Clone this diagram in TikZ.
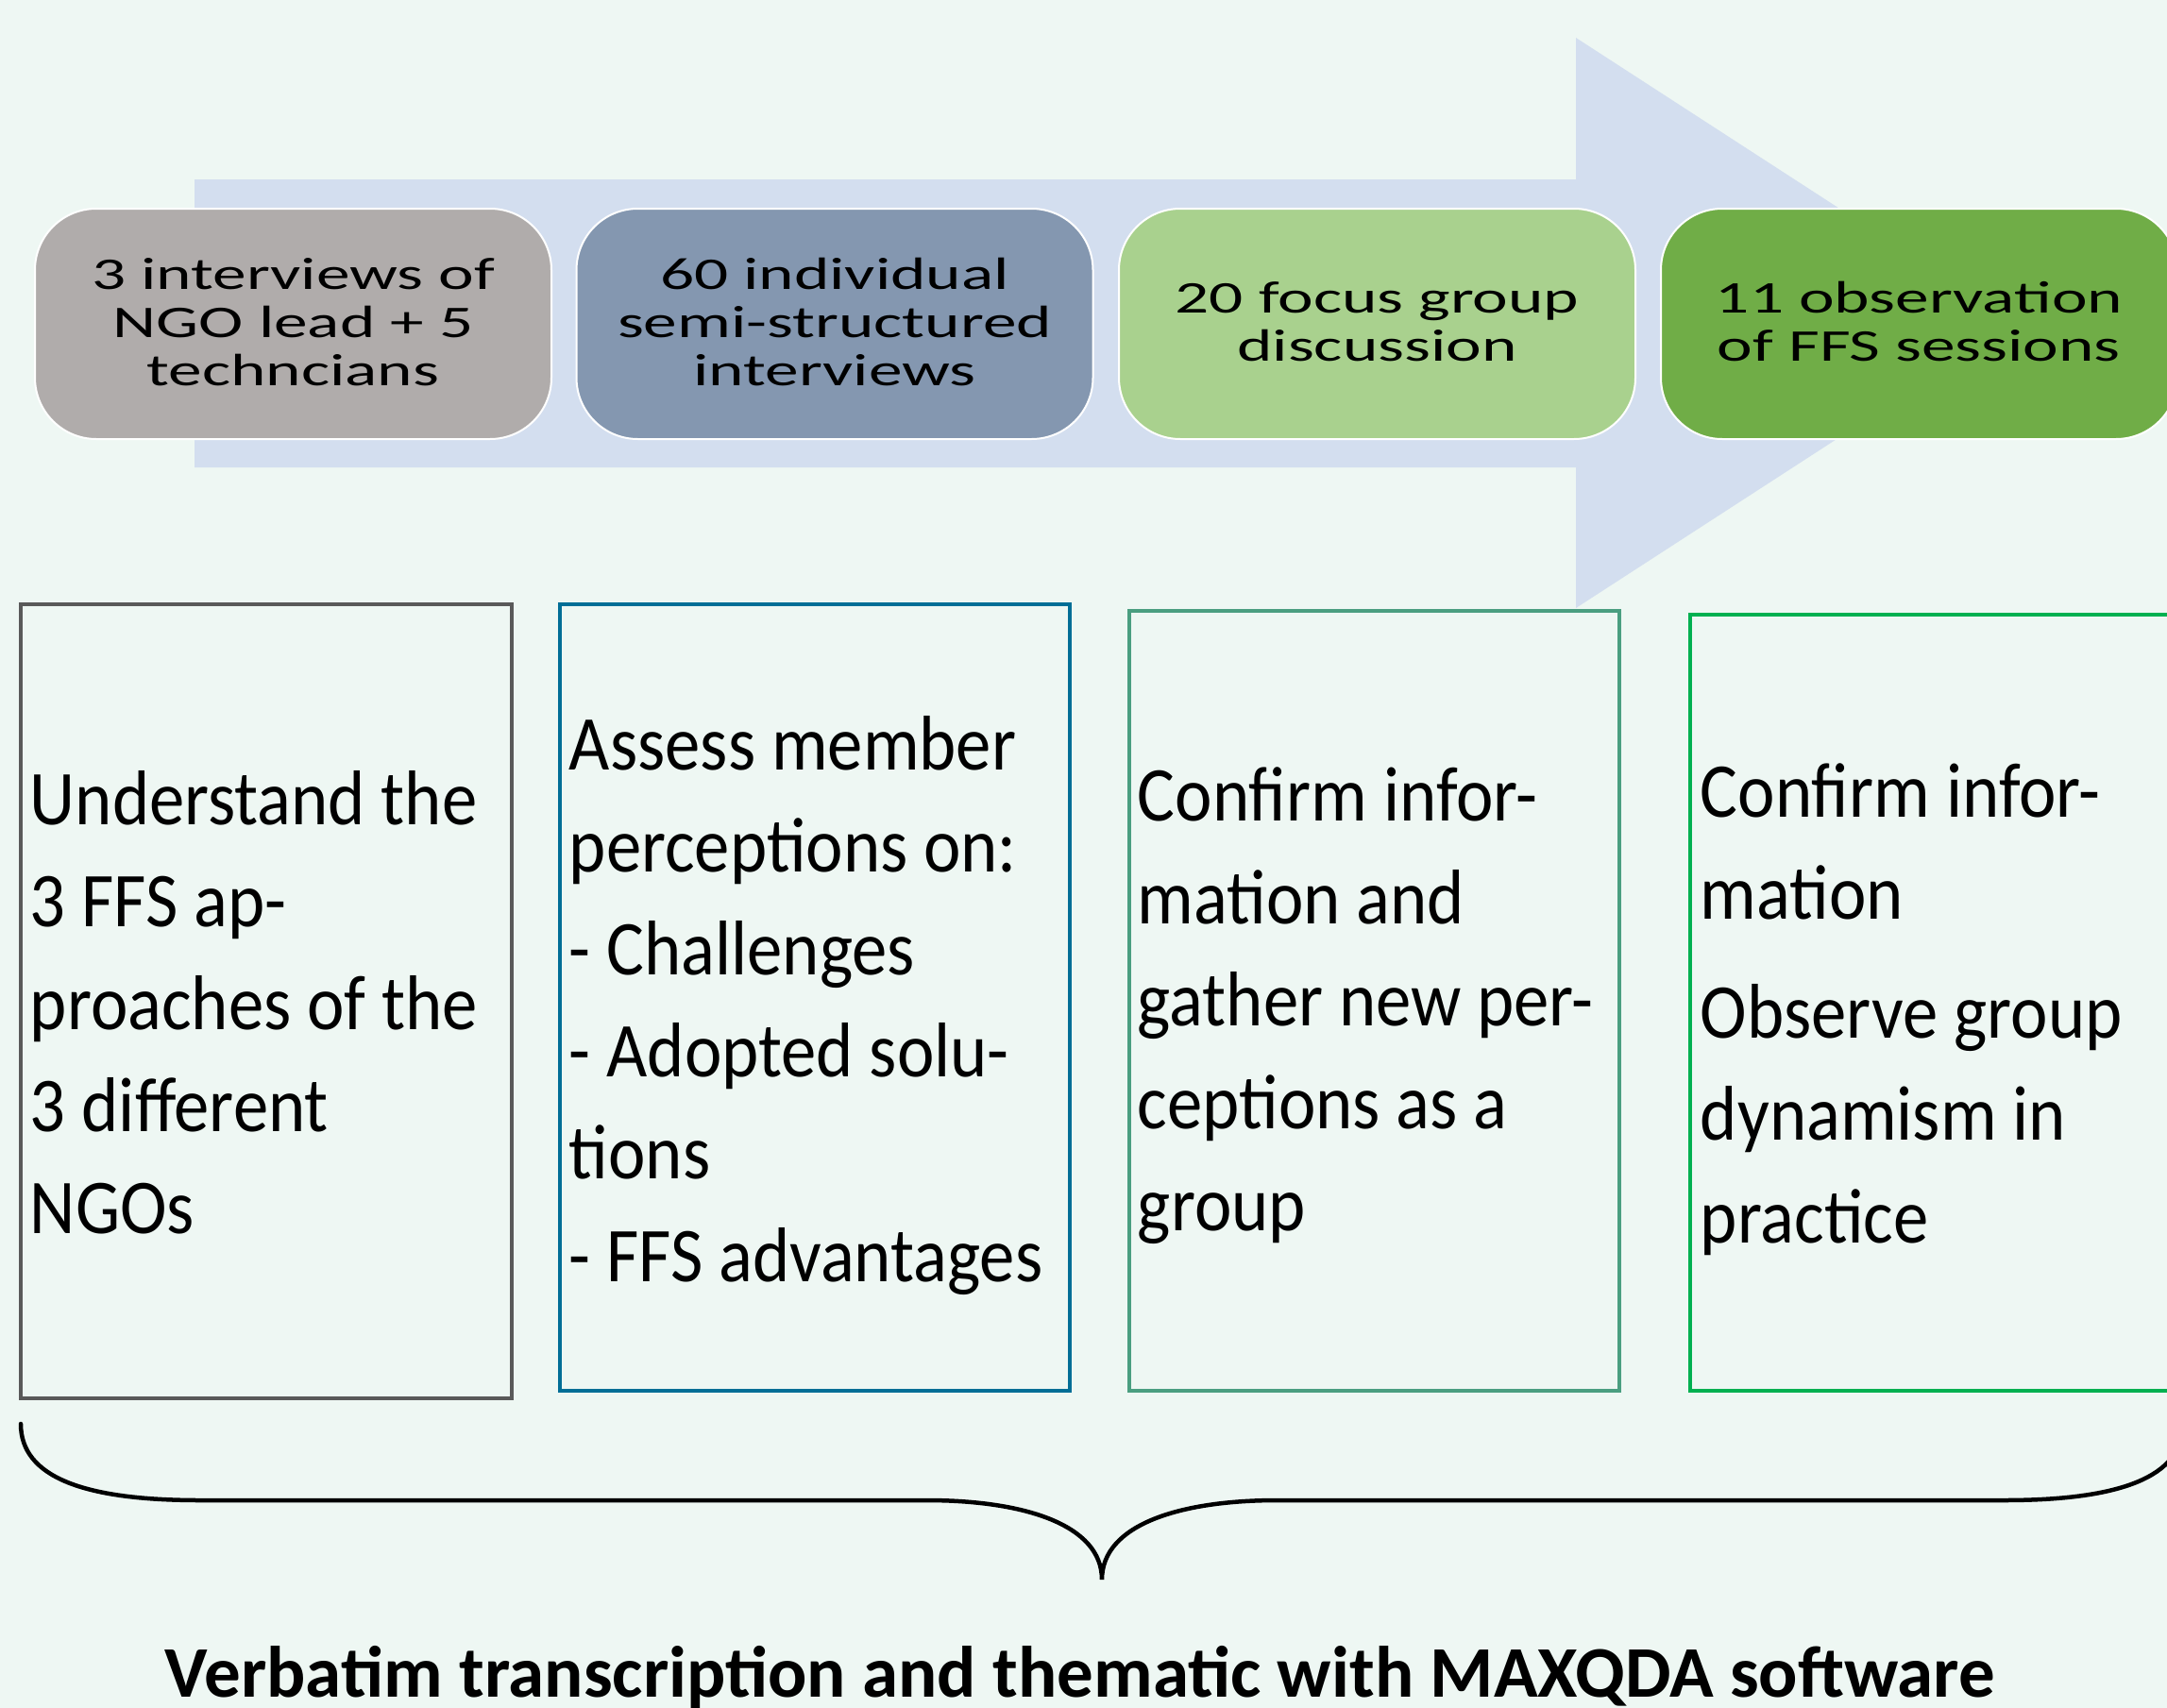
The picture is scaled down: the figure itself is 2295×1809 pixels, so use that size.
\documentclass[tikz,border=0pt]{standalone}
\usepackage{graphicx}
\usepackage{fontspec}
\setmainfont{Carlito}
\definecolor{bg}{HTML}{EEF7F3}
\definecolor{arrowc}{HTML}{D3DEEF}
\definecolor{cone}{HTML}{B0ACAB}
\definecolor{ctwo}{HTML}{8497B0}
\definecolor{cthree}{HTML}{A9D18E}
\definecolor{cfour}{HTML}{70AD47}
\definecolor{done}{HTML}{595959}
\definecolor{dtwo}{HTML}{006E96}
\definecolor{dthree}{HTML}{4A9E80}
\definecolor{dfour}{HTML}{00B050}
\newcommand{\stagetxt}[1]{\scalebox{1.485}[1]{\begin{tabular}{@{}c@{}}#1\end{tabular}}}
\newcommand{\goaltxt}[1]{\scalebox{1}[1.1]{\begin{tabular}{@{}l@{}}#1\end{tabular}}}
\begin{document}
\begin{tikzpicture}[x=1pt,y=-1pt,
  stage/.style={draw=white, line width=2pt, rounded corners=65pt, minimum width=547pt,
    minimum height=244pt, inner sep=0pt, font=\fontsize{48}{51}\selectfont},
  stagetext/.style={inner sep=0pt, font=\fontsize{48}{51}\selectfont},
  goalbox/.style={draw=#1, line width=4.5pt, rectangle, inner sep=0pt},
  goaltext/.style={anchor=west, inner sep=0pt, font=\fontsize{74.7}{98.5}\selectfont},
  bracestyle/.style={line width=4.5pt, line cap=round}]
\useasboundingbox (0,0) rectangle (2295,1809);
\clip (0,0) rectangle (2295,1809);
\fill[bg] (0,0) rectangle (2295,1809);
% big arrow
\fill[arrowc] (206,190) -- (1669,190) -- (1669,40) -- (2135,342) -- (1669,644) -- (1669,495) -- (206,495) -- cycle;
% stages
\node[stage, fill=cone]   (s1) at (310.5,343) {};
\node[stage, fill=ctwo]   (s2) at (884,343)   {};
\node[stage, fill=cthree] (s3) at (1458.5,343) {};
\node[stage, fill=cfour]  (s4) at (2032.5,343) {};
\node[stagetext] (st1) at ([yshift=-4pt]s1.center) {\stagetxt{3 interviews of\\NGO lead + 5\\techncians}};
\node[stagetext] (st2) at ([yshift=-4pt]s2.center) {\stagetxt{60 individual\\semi-structured\\interviews}};
\node[stagetext] (st3) at ([yshift=-4pt]s3.center) {\stagetxt{20 focus group\\discussion}};
\node[stagetext] (st4) at ([yshift=-4pt]s4.center) {\stagetxt{11 observation\\of FFS sessions}};
% goal boxes
\node[goalbox=done,   minimum width=520pt, minimum height=841pt] (g1) at (282,1060.5) {};
\node[goalbox=dtwo,   minimum width=540pt, minimum height=833pt] (g2) at (863,1056.5) {};
\node[goalbox=dthree, minimum width=519pt, minimum height=826pt] (g3) at (1455.5,1060) {};
\node[goalbox=dfour,  minimum width=530pt, minimum height=822pt] (g4) at (2055,1062) {};
\node[goaltext] (t1) at ([xshift=12pt,yshift=-8pt]g1.west) {\goaltxt{Understand the\\3 FFS ap-\\proaches of the\\3 different\\NGOs}};
\node[goaltext] (t2) at ([xshift=12pt,yshift=-8pt]g2.west) {\goaltxt{Assess member\\perceptions on:\\- Challenges\\- Adopted solu-\\tions\\- FFS advantages}};
\node[goaltext] (t3) at ([xshift=11pt,yshift=-5pt]g3.west) {\goaltxt{Confirm infor-\\mation and\\gather new per-\\ceptions as a\\group}};
\node[goaltext] (t4) at ([xshift=13pt,yshift=-7pt]g4.west) {\goaltxt{Confirm infor-\\mation\\[16pt]Observe group\\dynamism in\\practice}};
% brace
\coordinate (bl) at (22,1508);
\coordinate (br) at (2312,1508);
\coordinate (tip) at (1167,1673);
\draw[bracestyle] (bl) .. controls (22,1565) and (90,1589) .. (212,1589)
  -- (981,1589) .. controls (1085,1589) and (1167,1615) .. (tip)
  .. controls (1167,1615) and (1249,1589) .. (1353,1589)
  -- (2122,1589) .. controls (2244,1589) and (2312,1565) .. (br);
% caption
\node[anchor=base, inner sep=0pt, font=\fontsize{77}{85}\selectfont\bfseries] (cap) at (1144,1797)
  {Verbatim transcription and thematic with MAXQDA software};
\end{tikzpicture}
\end{document}
